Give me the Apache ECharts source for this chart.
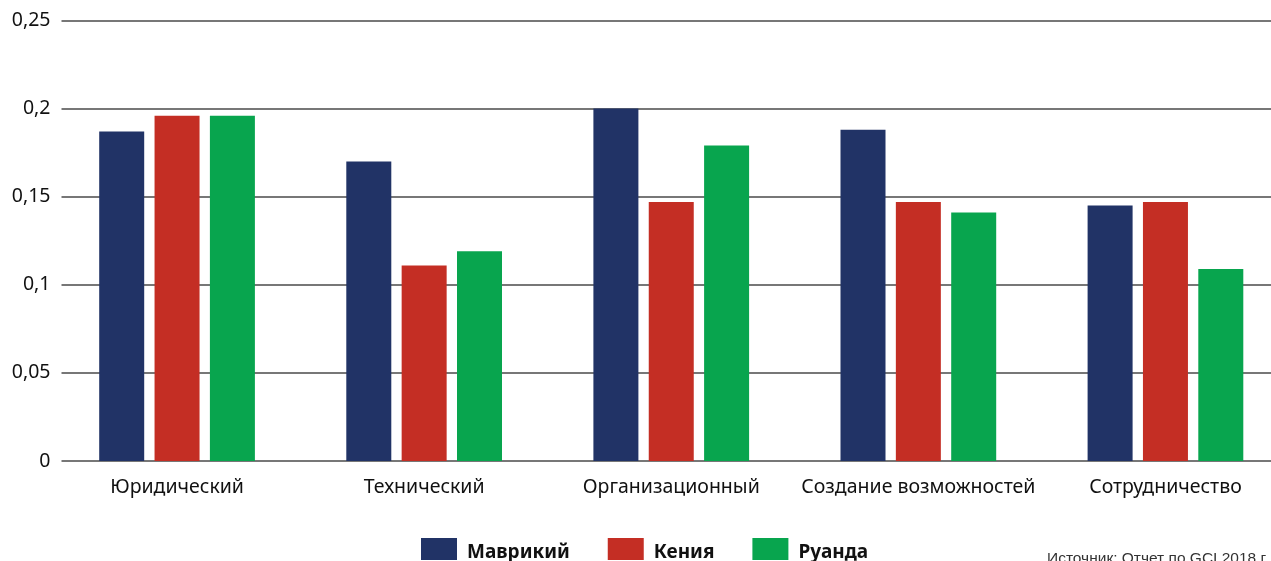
<!DOCTYPE html>
<html>
<head>
<meta charset="utf-8">
<script src="https://cdn.jsdelivr.net/npm/echarts@6/dist/echarts.min.js"></script>
<style>
  html, body { margin: 0; padding: 0; background: #ffffff; overflow: hidden; }
  /* the drawing runs a little past the right edge of the page and is clipped there */
  #wrap { width: 1271px; height: 561px; overflow: hidden; }
  #chart { width: 1289px; height: 561px; }
</style>
</head>
<body>
<div id="wrap"><div id="chart"></div></div>
<script>
// Pillar categories
const categories = ['Юридический', 'Технический', 'Организационный', 'Создание возможностей', 'Сотрудничество'];

// Country scores per pillar
const mauritius = [0.187, 0.170, 0.200, 0.188, 0.145];
const kenya     = [0.196, 0.111, 0.147, 0.147, 0.147];
const rwanda    = [0.196, 0.119, 0.179, 0.141, 0.109];

const seriesNames = ['Маврикий', 'Кения', 'Руанда'];
const yTicks = [0, 0.05, 0.1, 0.15, 0.2, 0.25];

const colors = ['#213366', '#C42E24', '#08A54E'];
const font = '"Noto Sans", "Open Sans", sans-serif';

const chart = echarts.init(document.getElementById('chart'));

const fmt = v => {
  const s = yTicks.find(t => Math.abs(t - v) < 1e-9);
  return s === undefined ? '' : String(s).replace('.', ',');
};

chart.setOption({
  animation: false,
  color: colors,
  legend: {
    data: seriesNames,
    left: 421,
    top: 538,
    padding: 0,
    itemWidth: 36,
    itemHeight: 22,
    itemGap: 38,
    icon: 'rect',
    formatter: '{n|{name}}',
    textStyle: {
      rich: {
        n: { fontFamily: font, fontSize: 19, fontWeight: 'bold', color: '#111', padding: [7, 0, 0, 5] }
      }
    }
  },
  grid: [
    // grid carrying the value axis and horizontal rules
    { left: 61.5, right: 0, top: 20.5, bottom: 100, containLabel: false },
    // grid carrying the bars; category bands are 247px wide
    { left: 53.5, right: 0, top: 20.5, bottom: 100, containLabel: false }
  ],
  xAxis: [
    { type: 'category', gridIndex: 0, data: categories, show: false },
    {
      type: 'category', gridIndex: 1, data: categories,
      axisLine: { show: false },
      axisTick: { show: false },
      axisLabel: { interval: 0, fontFamily: font, fontSize: 19.5, color: '#111', margin: 16 }
    }
  ],
  yAxis: [
    {
      type: 'value', gridIndex: 0, min: 0, max: 0.25, interval: 0.05,
      axisLine: { show: false }, axisTick: { show: false },
      axisLabel: { fontFamily: font, fontSize: 19.5, color: '#111', margin: 11, padding: [3, 0, 0, 0], formatter: fmt },
      splitLine: { lineStyle: { color: '#4a4a4a', width: 1.5 } }
    },
    {
      type: 'value', gridIndex: 1, min: 0, max: 0.25, interval: 0.05,
      axisLine: { show: false }, axisTick: { show: false },
      axisLabel: { show: false }, splitLine: { show: false }
    }
  ],
  series: [
    { name: seriesNames[0], type: 'bar', xAxisIndex: 1, yAxisIndex: 1, data: mauritius, barWidth: 45, barGap: '23%' },
    { name: seriesNames[1], type: 'bar', xAxisIndex: 1, yAxisIndex: 1, data: kenya, barWidth: 45, barGap: '23%' },
    { name: seriesNames[2], type: 'bar', xAxisIndex: 1, yAxisIndex: 1, data: rwanda, barWidth: 45, barGap: '23%' }
  ],
  graphic: [
    {
      type: 'text', left: 1047, top: 551,
      style: { text: 'Источник: Отчет по GCI 2018 г.', font: '15.5px "Liberation Sans", Arial, sans-serif', fill: '#333' }
    }
  ]
});
</script>
</body>
</html>
